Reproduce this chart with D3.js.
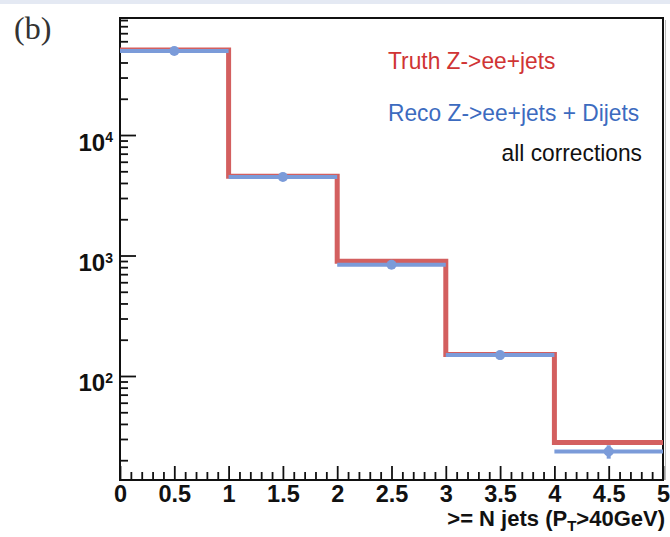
<!DOCTYPE html>
<html>
<head>
<meta charset="utf-8">
<script src="https://cdn.jsdelivr.net/npm/d3@7"></script>
<style>
  html, body { margin: 0; padding: 0; background: #fff; }
  svg { display: block; }
  text { font-family: "Liberation Sans", Arial, Helvetica, sans-serif; }
</style>
</head>
<body>
<svg id="chart" width="670" height="537"></svg>
<script>
// Jet multiplicity: bin edges in N jets
const binEdges = [0, 1, 2, 3, 4, 5];
// Truth Z->ee+jets events per inclusive jet bin
const truthCounts = [50700, 4540, 895, 151, 28.0];
// Reco Z->ee+jets + Dijets after all corrections
const recoCounts = [49800, 4480, 838, 149, 23.6];
const recoErrors = [220, 67, 29, 12, 3];
// Axis ticks
const xMajorTicks = [0, 0.5, 1, 1.5, 2, 2.5, 3, 3.5, 4, 4.5, 5];
const xTickLabels = ["0", "0.5", "1", "1.5", "2", "2.5", "3", "3.5", "4", "4.5", "5"];
const yMajorTicks = [1e2, 1e3, 1e4];
const yTickExponents = ["2", "3", "4"];
const legendLabels = ["Truth Z->ee+jets", "Reco Z->ee+jets + Dijets", "all corrections"];

const svg = d3.select("#chart");
const W = 670, H = 537;
const m = { left: 120, right: 663, top: 18, bottom: 480 };

const x = d3.scaleLinear().domain([0, 5]).range([m.left, m.right]);
const y = d3.scaleLog().domain([13.7, 93600]).range([m.bottom, m.top]);

// thin tinted band along the top edge of the page
svg.append("rect").attr("x", 0).attr("y", 0).attr("width", W).attr("height", 4)
  .attr("fill", "#e4e9f3");

// panel label
svg.append("text").attr("x", 14).attr("y", 39)
  .style("font-family", "'Liberation Serif', 'Times New Roman', serif")
  .style("font-size", "32px").attr("fill", "#333").text("(b)");

// minor ticks
const xMinor = d3.range(0, 50).map(i => i / 10).filter(v => Math.abs(v * 2 - Math.round(v * 2)) > 1e-6);
const yMinor = [];
for (let p = 1; p <= 4; p++) for (let k = 2; k <= 9; k++) {
  const v = k * Math.pow(10, p);
  if (v >= y.domain()[0] && v <= y.domain()[1]) yMinor.push(v);
}

function styleAxis(g) {
  g.select(".domain").remove();
  g.selectAll(".tick line").attr("stroke", "#111").attr("stroke-width", 1.8);
}

svg.append("g").attr("transform", `translate(0,${m.bottom})`)
  .call(d3.axisBottom(x).tickValues(xMinor).tickSize(-8).tickFormat(""))
  .call(styleAxis);
const xAx = svg.append("g").attr("transform", `translate(0,${m.bottom})`)
  .call(d3.axisBottom(x).tickValues(xMajorTicks).tickSize(-14)
    .tickFormat((d, i) => xTickLabels[i]))
  .call(styleAxis);
xAx.selectAll(".tick text")
  .attr("y", 22).attr("dy", 0)
  .attr("fill", "#111")
  .style("font-family", "'Liberation Sans', Arial, sans-serif")
  .style("font-size", "23.5px").style("font-weight", "bold");

svg.append("g").attr("transform", `translate(${m.left},0)`)
  .call(d3.axisLeft(y).tickValues(yMinor).tickSize(-8).tickFormat(""))
  .call(styleAxis);
const yAx = svg.append("g").attr("transform", `translate(${m.left},0)`)
  .call(d3.axisLeft(y).tickValues(yMajorTicks).tickSize(-16).tickFormat(""))
  .call(styleAxis);
yAx.selectAll(".tick").each(function(d, i) {
  const t = d3.select(this).append("text")
    .attr("x", -7).attr("y", 15)
    .attr("text-anchor", "end").attr("fill", "#111")
    .style("font-size", "24px").style("font-weight", "bold");
  t.append("tspan").text("10");
  t.append("tspan").attr("dy", -8.5).style("font-size", "14px").text(yTickExponents[i]);
});

// frame
svg.append("rect")
  .attr("x", m.left).attr("y", m.top)
  .attr("width", m.right - m.left).attr("height", m.bottom - m.top)
  .attr("fill", "none").attr("stroke", "#111").attr("stroke-width", 2);
svg.append("line").attr("x1", m.right + 2.5).attr("x2", m.right + 2.5)
  .attr("y1", m.top + 2).attr("y2", m.bottom)
  .attr("stroke", "#bbb").attr("stroke-width", 1);

// truth: step histogram
const stepPts = truthCounts.map((c, i) => [binEdges[i], c]);
stepPts.push([binEdges[binEdges.length - 1], truthCounts[truthCounts.length - 1]]);
svg.append("path")
  .attr("d", d3.line().x(d => x(d[0])).y(d => y(d[1])).curve(d3.curveStepAfter)(stepPts))
  .attr("fill", "none").attr("stroke", "#d35f5f").attr("stroke-width", 5)
  .attr("stroke-linejoin", "miter").attr("stroke-linecap", "butt");

// reco: horizontal bin-width bars with markers and error bars
const blue = "#7b9bd9";
const reco = svg.append("g");
recoCounts.forEach((c, i) => {
  const x0 = binEdges[i], x1 = binEdges[i + 1], xc = (x0 + x1) / 2;
  reco.append("line").attr("x1", x(x0)).attr("x2", x(x1))
    .attr("y1", y(c)).attr("y2", y(c))
    .attr("stroke", blue).attr("stroke-width", 4);
  reco.append("line").attr("x1", x(xc)).attr("x2", x(xc))
    .attr("y1", y(c + recoErrors[i])).attr("y2", y(c - recoErrors[i]))
    .attr("stroke", blue).attr("stroke-width", 4);
  reco.append("circle").attr("cx", x(xc)).attr("cy", y(c)).attr("r", 5)
    .attr("fill", blue);
});

// legend (slightly condensed lettering)
function condensedText(parent, px, py, anchor, fill, label) {
  return parent.append("g").attr("transform", `translate(${px},${py}) scale(0.93,1)`)
    .append("text").attr("text-anchor", anchor).attr("fill", fill)
    .style("font-size", "24.5px").text(label);
}
const legend = svg.append("g");
condensedText(legend, 388, 69, "start", "#d03434", legendLabels[0]);
condensedText(legend, 388, 121, "start", "#3c6bbf", legendLabels[1]);
condensedText(legend, 642, 161, "end", "#111", legendLabels[2]);

// x axis title
const xt = svg.append("text").attr("x", 665).attr("y", 526).attr("text-anchor", "end")
  .attr("fill", "#111").style("font-size", "22px").style("font-weight", "bold");
xt.append("tspan").text(">= N jets (P");
xt.append("tspan").attr("dy", 5).style("font-size", "15px").text("T");
xt.append("tspan").attr("dy", -5).text(">40GeV)");
</script>
</body>
</html>
